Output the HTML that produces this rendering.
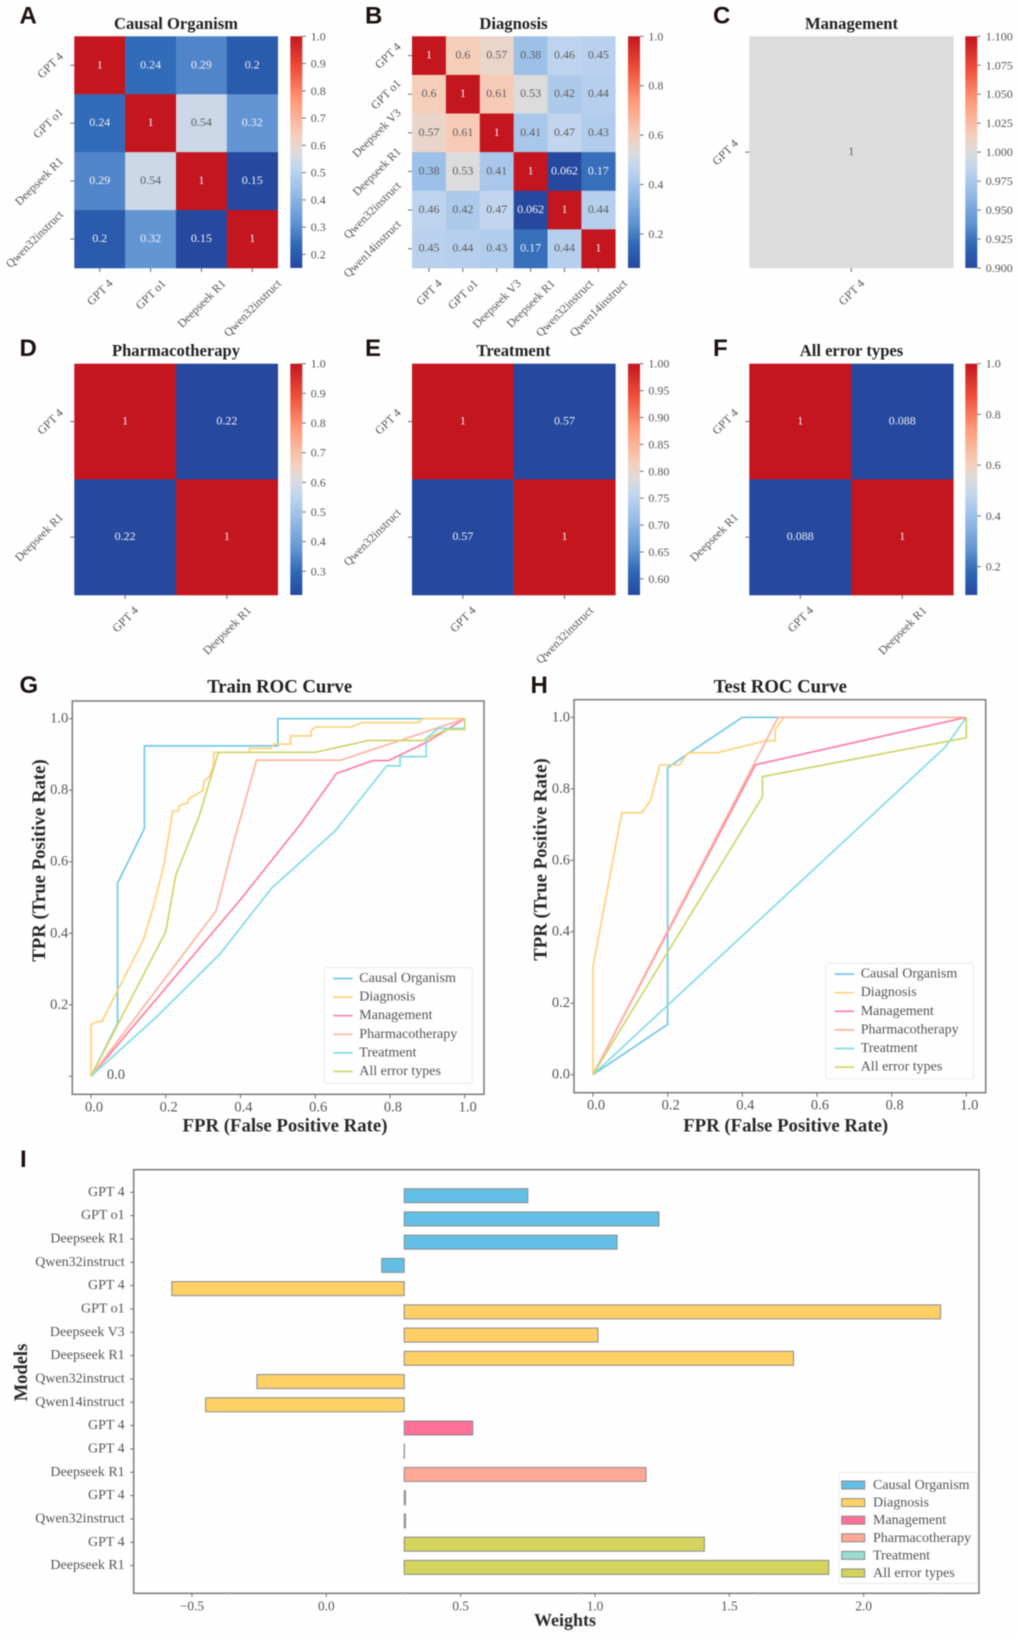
<!DOCTYPE html>
<html lang="en">
<head>
<meta charset="utf-8">
<title>Model agreement, ROC curves and weights</title>
<style>
html,body{margin:0;padding:0;background:#fefefe;width:1019px;height:1638px;overflow:hidden}
svg{display:block;font-family:"Liberation Serif",serif;filter:blur(0.6px)}
.title{font-weight:bold;fill:#222;text-anchor:middle}
.letter{font-family:"Liberation Sans",sans-serif;font-weight:bold;font-size:24px;fill:#1c1210}
.axis-title{font-weight:bold;fill:#2a2a2a;text-anchor:middle}
</style>
</head>
<body>
<svg id="figure" xmlns="http://www.w3.org/2000/svg" width="1019" height="1638" viewBox="0 0 1019 1638">
  <defs>
    <linearGradient id="cbar-gradient" x1="0" y1="1" x2="0" y2="0"></linearGradient>
  </defs>
  <rect x="0" y="0" width="1019" height="1638" fill="#fefefe"/>

  <text class="letter" x="19.5" y="23.5">A</text>
  <text class="letter" x="365" y="23.5">B</text>
  <text class="letter" x="713" y="23.5">C</text>
  <text class="letter" x="19.5" y="356">D</text>
  <text class="letter" x="365" y="356">E</text>
  <text class="letter" x="713" y="356">F</text>
  <text class="letter" x="19.5" y="693">G</text>
  <text class="letter" x="530.5" y="693">H</text>
  <text class="letter" x="20" y="1167">I</text>

  <text class="title" x="176" y="29" font-size="16.6">Causal Organism</text>
  <text class="title" x="513.5" y="29" font-size="16.6">Diagnosis</text>
  <text class="title" x="851.5" y="29" font-size="16.6">Management</text>
  <text class="title" x="176" y="356" font-size="16.6">Pharmacotherapy</text>
  <text class="title" x="513.5" y="356" font-size="16.6">Treatment</text>
  <text class="title" x="851.5" y="356" font-size="16.6">All error types</text>
  <text class="title" x="279.7" y="692.5" font-size="18.7">Train ROC Curve</text>
  <text class="title" x="780.3" y="692.5" font-size="18.7">Test ROC Curve</text>

  <text class="axis-title" x="285" y="1131.5" font-size="18.8">FPR (False Positive Rate)</text>
  <text class="axis-title" transform="translate(45 860.5) rotate(-90)" font-size="18.8">TPR (True Positive Rate)</text>
  <text class="axis-title" x="785.7" y="1131.5" font-size="18.8">FPR (False Positive Rate)</text>
  <text class="axis-title" transform="translate(546.7 859.5) rotate(-90)" font-size="18.8">TPR (True Positive Rate)</text>
  <text class="axis-title" x="565" y="1626" font-size="18">Weights</text>
  <text class="axis-title" transform="translate(27 1372.5) rotate(-90)" font-size="18.5">Models</text>

  <g id="charts"></g>
</svg>
<script>
// ---------- heatmap data ----------
const labelsA = ['GPT 4', 'GPT o1', 'Deepseek R1', 'Qwen32instruct'];
const valuesA = [[1, 0.24, 0.29, 0.2], [0.24, 1, 0.54, 0.32], [0.29, 0.54, 1, 0.15], [0.2, 0.32, 0.15, 1]];
const cbarTicksA = [0.2, 0.3, 0.4, 0.5, 0.6, 0.7, 0.8, 0.9, 1.0];

const labelsB = ['GPT 4', 'GPT o1', 'Deepseek V3', 'Deepseek R1', 'Qwen32instruct', 'Qwen14instruct'];
const valuesB = [
  [1, 0.6, 0.57, 0.38, 0.46, 0.45],
  [0.6, 1, 0.61, 0.53, 0.42, 0.44],
  [0.57, 0.61, 1, 0.41, 0.47, 0.43],
  [0.38, 0.53, 0.41, 1, 0.062, 0.17],
  [0.46, 0.42, 0.47, 0.062, 1, 0.44],
  [0.45, 0.44, 0.43, 0.17, 0.44, 1]
];
const cbarTicksB = [0.2, 0.4, 0.6, 0.8, 1.0];

const labelsC = ['GPT 4'];
const valuesC = [[1]];
const cbarTicksC = [0.9, 0.925, 0.95, 0.975, 1.0, 1.025, 1.05, 1.075, 1.1];

const labelsD = ['GPT 4', 'Deepseek R1'];
const valuesD = [[1, 0.22], [0.22, 1]];
const cbarTicksD = [0.3, 0.4, 0.5, 0.6, 0.7, 0.8, 0.9, 1.0];

const labelsE = ['GPT 4', 'Qwen32instruct'];
const valuesE = [[1, 0.57], [0.57, 1]];
const cbarTicksE = [0.6, 0.65, 0.7, 0.75, 0.8, 0.85, 0.9, 0.95, 1.0];

const labelsF = ['GPT 4', 'Deepseek R1'];
const valuesF = [[1, 0.088], [0.088, 1]];
const cbarTicksF = [0.2, 0.4, 0.6, 0.8, 1.0];

// ---------- ROC data: [FPR, TPR] ----------
const rocNames = ['Causal Organism', 'Diagnosis', 'Management', 'Pharmacotherapy', 'Treatment', 'All error types'];
const rocColors = ['#74c8ea', '#ffd27a', '#ff7fa3', '#ffb4a2', '#84dce4', '#cfd66c'];
const rocTicks = [0, 0.2, 0.4, 0.6, 0.8, 1.0];

const trainCausal = [[0,0],[0.071,0.148],[0.071,0.54],[0.143,0.693],[0.143,0.924],[0.5,0.924],[0.5,1],[1,1]];
const trainDiagnosis = [[0,0],[0,0.144],[0.015,0.153],[0.029,0.153],[0.14,0.381],[0.167,0.474],[0.194,0.586],[0.219,0.742],[0.234,0.742],[0.236,0.756],[0.26,0.766],[0.262,0.777],[0.3,0.799],[0.302,0.824],[0.318,0.84],[0.327,0.866],[0.329,0.906],[0.424,0.906],[0.424,0.917],[0.481,0.917],[0.49,0.929],[0.534,0.929],[0.534,0.952],[0.589,0.952],[0.589,0.966],[0.601,0.977],[0.698,0.977],[0.724,0.989],[0.876,0.989],[0.888,1],[1,1]];
const trainManagement = [[0,0],[0.399,0.493],[0.559,0.703],[0.657,0.847],[0.754,0.883],[0.796,0.883],[0.898,0.934],[1,1]];
const trainPharmacotherapy = [[0,0],[0.335,0.463],[0.381,0.651],[0.443,0.884],[0.668,0.884],[0.827,0.939],[1,1]];
const trainTreatment = [[0,0],[0.176,0.167],[0.345,0.342],[0.483,0.526],[0.653,0.686],[0.791,0.868],[0.827,0.868],[0.827,0.894],[0.897,0.894],[0.897,0.945],[0.93,0.973],[1,0.973],[1,1]];
const trainAll = [[0,0],[0.131,0.265],[0.2,0.404],[0.227,0.563],[0.289,0.726],[0.341,0.906],[0.6,0.906],[0.742,0.939],[0.889,0.939],[0.952,0.97],[1,0.97],[1,1]];

const testCausal = [[0,0],[0.2,0.141],[0.2,0.859],[0.26,0.902],[0.4,1],[0.5,1],[1,1]];
const testDiagnosis = [[0,0],[0,0.302],[0.077,0.733],[0.13,0.733],[0.154,0.767],[0.179,0.867],[0.231,0.867],[0.255,0.901],[0.334,0.901],[0.461,0.934],[0.488,0.934],[0.488,0.966],[0.512,1],[1,1]];
const testManagement = [[0,0],[0.435,0.867],[1,1]];
const testPharmacotherapy = [[0,0],[0.496,1],[1,1]];
const testTreatment = [[0,0],[0.943,0.916],[1,1]];
const testAll = [[0,0],[0.454,0.778],[0.454,0.834],[1,0.943],[1,1]];

// ---------- weights data ----------
const barModels = ['GPT 4','GPT o1','Deepseek R1','Qwen32instruct','GPT 4','GPT o1','Deepseek V3','Deepseek R1','Qwen32instruct','Qwen14instruct','GPT 4','GPT 4','Deepseek R1','GPT 4','Qwen32instruct','GPT 4','Deepseek R1'];
const barGroups = [0,0,0,0,1,1,1,1,1,1,2,3,3,4,4,5,5];
const barEnds = [0.75,1.238,1.082,0.206,-0.575,2.286,1.011,1.739,-0.258,-0.449,0.545,0.291,1.19,0.295,0.295,1.407,1.87];
const barBase = 0.29;
const barXTicks = [-0.5, 0, 0.5, 1.0, 1.5, 2.0];
const barMinorTicks = [-0.369, 0.29, 0.948, 1.606, 2.27];
const barColors = ['#63bfe5', '#ffd066', '#ff7099', '#ffa896', '#9adcd0', '#d2d45c'];

// ---------- colour ramp ----------
const rampStops = [[0,'#26499f'],[0.1,'#2f68b6'],[0.2,'#6395d4'],[0.34,'#9cc0e7'],[0.43,'#c0d5ef'],[0.5,'#dcdcdc'],[0.57,'#f5cfbc'],[0.72,'#ff9a78'],[0.86,'#ef4f3a'],[1,'#c4161f']];

const NS = 'http://www.w3.org/2000/svg';
const TICK = '#6a6a6a';
const TXT = '#555555';
const root = document.getElementById('charts');

function mk(tag, attrs, parent, text) {
  const n = document.createElementNS(NS, tag);
  for (const k in attrs) n.setAttribute(k, attrs[k]);
  if (text !== undefined) n.textContent = text;
  parent.appendChild(n);
  return n;
}
function hex(c) { return [1, 3, 5].map(i => parseInt(c.substr(i, 2), 16)); }
function ramp(t) {
  t = Math.max(0, Math.min(1, t));
  for (let i = 1; i < rampStops.length; i++) {
    if (t <= rampStops[i][0]) {
      const a = rampStops[i - 1], b = rampStops[i];
      const f = (t - a[0]) / (b[0] - a[0]);
      const ca = hex(a[1]), cb = hex(b[1]);
      return 'rgb(' + ca.map((v, j) => Math.round(v + (cb[j] - v) * f)).join(',') + ')';
    }
  }
  return rampStops[rampStops.length - 1][1];
}
const gradient = document.getElementById('cbar-gradient');
rampStops.forEach(s => mk('stop', { offset: s[0], 'stop-color': s[1] }, gradient));

function rotated(parent, label, fs) {
  const g = mk('text', { 'text-anchor': 'middle', 'font-size': fs, fill: TXT, y: fs * 0.34 }, parent, label);
  return { node: g, box: (g.getComputedTextLength() + fs * 1.15) * 0.7071 };
}

function heatmap(labels, values, cbarTicks, decimals, box) {
  const g = mk('g', {}, root);
  
  
  const flat = values.flat();
  let vmin = Math.min(...flat), vmax = Math.max(...flat);
  if (vmin === vmax) { vmin -= 0.1; vmax += 0.1; }
  const n = labels.length;
  const cw = (box.x1 - box.x0) / n, ch = (box.y1 - box.y0) / n;
  const colX = i => box.x0 + cw * i;
  const rowY = i => box.y0 + ch * i;
  values.forEach((row, r) => row.forEach((v, c) => {
    const t = (v - vmin) / (vmax - vmin);
    const cell = mk('rect', { x: colX(c), y: rowY(r), width: cw + 0.3, height: ch + 0.3, fill: ramp(t) }, g);
    
    
    const light = t < 0.25 || t > 0.8;
    const note = mk('text', { x: colX(c) + cw / 2, y: rowY(r) + ch / 2 + 3, 'text-anchor': 'middle', 'font-size': 12, fill: light ? '#eef0f6' : '#5e5e5e' }, g, String(v));
    
    
  }));
  labels.forEach((lab, i) => {
    const tx = colX(i) + cw / 2, ty = rowY(i) + ch / 2;
    mk('line', { x1: tx, x2: tx, y1: box.y1, y2: box.y1 + 4, stroke: TICK, 'stroke-width': 1 }, g);
    mk('line', { x1: box.x0 - 4, x2: box.x0, y1: ty, y2: ty, stroke: TICK, 'stroke-width': 1 }, g);
    const xl = rotated(g, lab, 11.8);
    xl.node.setAttribute('transform', 'translate(' + tx + ' ' + (box.y1 + 8.5 + xl.box / 2) + ') rotate(-45)');
    
    
    const yl = rotated(g, lab, 11.8);
    yl.node.setAttribute('transform', 'translate(' + (box.x0 - 8.5 - yl.box / 2) + ' ' + ty + ') rotate(-45)');
    
    
  });
  const bar = mk('rect', { x: box.cx, y: box.y0, width: 12, height: box.y1 - box.y0, fill: 'url(#cbar-gradient)' }, g);
  
  
  const cbarY = v => box.y1 - (v - vmin) / (vmax - vmin) * (box.y1 - box.y0);
  cbarTicks.forEach(v => {
    const y = cbarY(v);
    mk('line', { x1: box.cx + 12, x2: box.cx + 15.5, y1: y, y2: y, stroke: TICK, 'stroke-width': 1 }, g);
    const lab = mk('text', { x: box.cx + 20.4, y: y + 4, 'font-size': 12, fill: TXT }, g, v.toFixed(decimals));
    
    
  });
}

heatmap(labelsA, valuesA, cbarTicksA, 1, { x0: 74.3, x1: 277.7, y0: 36.3, y1: 268, cx: 290.3 });
heatmap(labelsB, valuesB, cbarTicksB, 1, { x0: 412, x1: 615.3, y0: 36.3, y1: 268, cx: 628 });
heatmap(labelsC, valuesC, cbarTicksC, 3, { x0: 749.3, x1: 953.3, y0: 36.3, y1: 268, cx: 965.3 });
heatmap(labelsD, valuesD, cbarTicksD, 1, { x0: 74.3, x1: 277.7, y0: 363.7, y1: 595, cx: 290.3 });
heatmap(labelsE, valuesE, cbarTicksE, 2, { x0: 412, x1: 615.3, y0: 363.7, y1: 595, cx: 628 });
heatmap(labelsF, valuesF, cbarTicksF, 1, { x0: 749.3, x1: 953.3, y0: 363.7, y1: 595, cx: 965.3 });

function frame(g, x0, y0, x1, y1) {
  const f = mk('rect', { x: x0, y: y0, width: x1 - x0, height: y1 - y0, fill: 'none', stroke: '#7c7a78', 'stroke-width': 1.5 }, g);
  
  
}

function roc(series, box, opts) {
  const g = mk('g', {}, root);
  
  
  const sx = v => box.x0v + v * (box.x1v - box.x0v);
  const sy = v => box.y0v + v * (box.y1v - box.y0v);
  frame(g, box.x0, box.y0, box.x1, box.y1);
  rocTicks.forEach(v => {
    const x = sx(v), y = sy(v);
    mk('line', { x1: x, x2: x, y1: box.y1, y2: box.y1 + 4, stroke: TICK, 'stroke-width': 1 }, g);
    mk('line', { x1: box.x0 - 3.5, x2: box.x0, y1: y, y2: y, stroke: TICK, 'stroke-width': 1 }, g);
    const xl = mk('text', { x: x + 3, y: box.y1 + 17, 'text-anchor': 'middle', 'font-size': 14.5, fill: TXT }, g, v.toFixed(1));
    
    
    const inside = v === 0 && opts.zeroInside;
    const yl = mk('text', { x: inside ? box.x0v + 34 : box.x0 - 4, y: y + (inside ? 2.5 : 4), 'text-anchor': 'end', 'font-size': 14.5, fill: TXT }, g, v.toFixed(1));
    
    
  });
  series.forEach((pts, i) => {
    const d = pts.map(p => sx(p[0]).toFixed(2) + ',' + sy(p[1]).toFixed(2)).join(' ');
    const line = mk('polyline', { points: d, fill: 'none', stroke: rocColors[i], 'stroke-width': 1.7, 'stroke-linejoin': 'miter' }, g);
    
    
  });
  const lg = mk('g', {}, g);
  
  
  mk('rect', { x: opts.lx, y: opts.ly, width: 148, height: 115.6, rx: 2, fill: '#fefefe', stroke: '#e6e6e6', 'stroke-width': 0.8 }, lg);
  rocNames.forEach((name, i) => {
    const y = opts.ly + 9.8 + i * 18.6;
    mk('line', { x1: opts.lx + 9, x2: opts.lx + 28.4, y1: y + 1, y2: y + 1, stroke: rocColors[i], 'stroke-width': 1.7 }, lg);
    const t = mk('text', { x: opts.lx + 35, y: y + 4.5, 'font-size': 14, fill: TXT }, lg, name);
    
    
  });
}

roc([trainCausal, trainDiagnosis, trainManagement, trainPharmacotherapy, trainTreatment, trainAll],
  { x0: 72.3, x1: 484, y0: 701, y1: 1094.3, x0v: 91, x1v: 464.7, y0v: 1076.3, y1v: 718.7 },
  { lx: 324.3, ly: 967.7, zeroInside: true });
roc([testCausal, testDiagnosis, testManagement, testPharmacotherapy, testTreatment, testAll],
  { x0: 574, x1: 985.7, y0: 699.7, y1: 1092.7, x0v: 593, x1v: 966.3, y0v: 1074.7, y1v: 717.3 },
  { lx: 825.7, ly: 963.3, zeroInside: false });

(function weights() {
  const g = mk('g', {}, root);
  
  
  const box = { x0: 133.7, x1: 979, y0: 1169.7, y1: 1593.3 };
  const sx = v => 326.3 + v * 268.7;
  const tickY = i => 1192.3 + i * 23.33;
  const barY = i => 1195.7 + i * 23.23;
  frame(g, box.x0, box.y0, box.x1, box.y1);
  barMinorTicks.forEach(v => {
    mk('line', { x1: sx(v), x2: sx(v), y1: box.y1, y2: box.y1 + 2.5, stroke: '#d8d8d8', 'stroke-width': 0.8 }, g);
  });
  barXTicks.forEach(v => {
    const x = sx(v);
    mk('line', { x1: x, x2: x, y1: box.y1, y2: box.y1 + 3.5, stroke: TICK, 'stroke-width': 1 }, g);
    const t = mk('text', { x: x, y: 1610.7, 'text-anchor': 'middle', 'font-size': 13.3, fill: TXT }, g, v < 0 ? '\u2212' + Math.abs(v).toFixed(1) : v.toFixed(1));
    
    
  });
  barModels.forEach((m, i) => {
    const y = tickY(i);
    mk('line', { x1: box.x0 - 3.5, x2: box.x0, y1: y, y2: y, stroke: TICK, 'stroke-width': 1 }, g);
    const t = mk('text', { x: 124.7, y: y + 3.6, 'text-anchor': 'end', 'font-size': 14, fill: TXT }, g, m);
    
    
    const a = sx(Math.min(barBase, barEnds[i])), b = sx(Math.max(barBase, barEnds[i]));
    const bar = mk('rect', { x: a, y: barY(i) - 7, width: Math.max(b - a, 0.2), height: 14, fill: barColors[barGroups[i]], stroke: '#8a8a8a', 'stroke-width': 1 }, g);
    
    
  });
  const lg = mk('g', {}, g);
  
  
  mk('rect', { x: 839, y: 1472.3, width: 138.7, height: 111, rx: 2, fill: '#fefefe', stroke: '#e6e6e6', 'stroke-width': 0.8 }, lg);
  rocNames.forEach((name, i) => {
    const y = 1485 + i * 17.6;
    mk('rect', { x: 841.7, y: y - 4, width: 23, height: 8, fill: barColors[i], stroke: '#8a8a8a', 'stroke-width': 1 }, lg);
    const t = mk('text', { x: 873, y: y + 4, 'font-size': 14, fill: TXT }, lg, name);
    
    
  });
})();
</script>
</body>
</html>
